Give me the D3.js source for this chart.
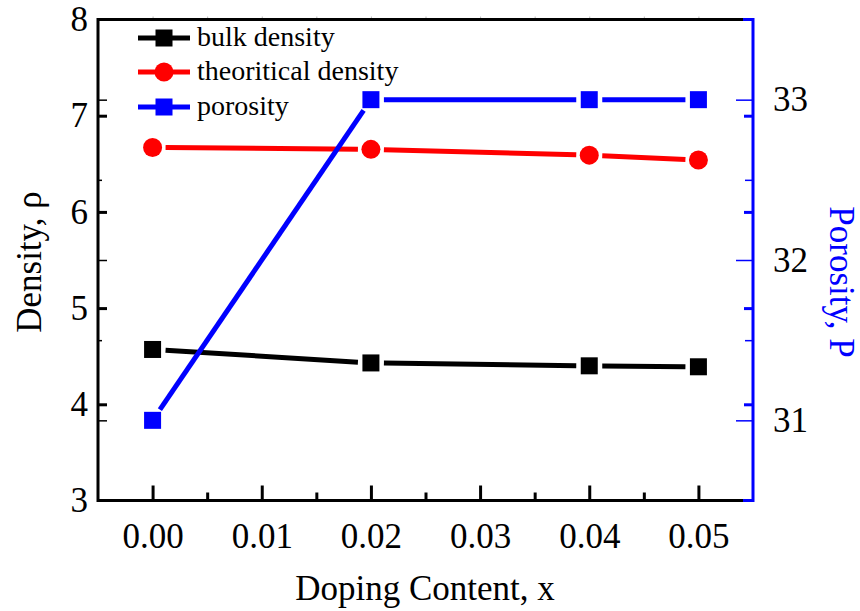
<!DOCTYPE html>
<meta charset="utf-8">
<style>
  body { margin: 0; background: #fff; }
  svg { font-family: "Liberation Serif", "Times New Roman", serif; }
</style>
<body>
<svg id="chart" width="860" height="611"></svg>
<script src="https://cdn.jsdelivr.net/npm/d3@7"></script>
<script>
  // data
  const doping = [0.00, 0.02, 0.04, 0.05];
  const bulkDensity = [4.57, 4.43, 4.40, 4.39];
  const theoDensity = [6.67, 6.65, 6.59, 6.54];
  const porosity = [31.0, 33.0, 33.0, 33.0];

  const xTicks = [0, 0.01, 0.02, 0.03, 0.04, 0.05];
  const xMinor = [0.005, 0.015, 0.025, 0.035, 0.045];
  const leftTicks = [3, 4, 5, 6, 7, 8];
  const leftInner = [4, 5, 6, 7];
  const rightTicks = [31, 32, 33];
  const rightMinor = [31.5, 32.5];
  const legendLabels = ["bulk density", "theoritical density", "porosity"];

  const pLeft = 98, pRight = 753, pTop = 19.5, pBottom = 500.5;
  const svg = d3.select("#chart");

  const x = d3.scaleLinear().domain([-0.005, 0.055]).range([pLeft, pRight]);
  const yL = d3.scaleLinear().domain([3, 8]).range([pBottom, pTop]);
  const yR = d3.scaleLinear().domain([30.5, 33.5]).range([pBottom, pTop]);

  const strip = g => g.select(".domain").remove();

  // bottom axis
  const gb = svg.append("g").attr("transform", `translate(0,${pBottom})`);
  gb.append("g").call(d3.axisBottom(x).tickValues(xTicks).tickSize(-15).tickFormat(""))
    .call(strip).selectAll("line").attr("stroke-width", 3);
  gb.append("g").call(d3.axisBottom(x).tickValues(xMinor).tickSize(-8).tickFormat(""))
    .call(strip).selectAll("line").attr("stroke-width", 3);
  gb.append("g").call(d3.axisBottom(x).tickValues(xTicks).tickSize(0).tickPadding(23).tickFormat(d3.format(".2f")))
    .call(strip).selectAll("text").attr("font-size", 35).attr("fill", "#000");

  // faint marks on top axis
  svg.append("g").attr("transform", `translate(0,${pTop})`)
    .call(d3.axisTop(x).tickValues(xTicks.concat(xMinor)).tickSize(3).tickFormat(""))
    .call(strip).selectAll("line").attr("stroke", "#bbb").attr("stroke-width", 1);

  // left axis
  const gl = svg.append("g").attr("transform", `translate(${pLeft},0)`);
  gl.append("g").call(d3.axisLeft(yL).tickValues(leftInner).tickSize(-9).tickFormat(""))
    .call(strip).selectAll("line").attr("stroke-width", 3);
  gl.append("g").call(d3.axisLeft(yR).tickValues(rightTicks).tickSize(-9).tickFormat(""))
    .call(strip).selectAll("line").attr("stroke-width", 1.5);
  gl.append("g").call(d3.axisLeft(yR).tickValues(rightMinor).tickSize(-4).tickFormat(""))
    .call(strip).selectAll("line").attr("stroke-width", 1.5);
  gl.append("g").call(d3.axisLeft(yL).tickValues(leftTicks).tickSize(0).tickPadding(10).tickFormat(d3.format("d")))
    .call(strip).selectAll("text").attr("font-size", 35).attr("fill", "#000");

  // right axis (blue)
  const gr = svg.append("g").attr("transform", `translate(${pRight},0)`).attr("color", "#0000ff");
  gr.append("g").call(d3.axisRight(yL).tickValues(leftInner).tickSize(-9).tickFormat(""))
    .call(strip).selectAll("line").attr("stroke-width", 3);
  gr.append("g").call(d3.axisRight(yR).tickValues(rightTicks).tickSize(-17).tickFormat(""))
    .call(strip).selectAll("line").attr("stroke-width", 1.5);
  gr.append("g").call(d3.axisRight(yR).tickValues(rightMinor).tickSize(-8).tickFormat(""))
    .call(strip).selectAll("line").attr("stroke-width", 1.5);
  gr.append("g").call(d3.axisRight(yR).tickValues(rightTicks).tickSize(0).tickPadding(20).tickFormat(d3.format("d")))
    .call(strip).selectAll("text").attr("font-size", 35).attr("fill", "#000");

  // fonts set on the svg, not the axis groups
  svg.selectAll("g").attr("font-family", null);

  // frame
  const frame = svg.append("g").attr("fill", "none").attr("stroke-width", 3);
  frame.append("path").attr("stroke", "#000")
    .attr("d", `M${pRight - 9},${pTop}H${pLeft}V${pBottom}H${pRight - 9}`);
  frame.append("path").attr("stroke", "#0000ff")
    .attr("d", `M${pRight - 10},${pTop}H${pRight}V${pBottom}H${pRight - 10}`);

  // series
  function drawSeries(values, yScale, color, shape) {
    const g = svg.append("g");
    const pts = doping.map((d, i) => [x(d), yScale(values[i])]);
    const gap = 13;
    for (let i = 0; i < pts.length - 1; i++) {
      const [x1, y1] = pts[i], [x2, y2] = pts[i + 1];
      const len = Math.hypot(x2 - x1, y2 - y1);
      const ux = (x2 - x1) / len, uy = (y2 - y1) / len;
      g.append("line")
        .attr("x1", x1 + ux * gap).attr("y1", y1 + uy * gap)
        .attr("x2", x2 - ux * gap).attr("y2", y2 - uy * gap)
        .attr("stroke", color).attr("stroke-width", 5);
    }
    pts.forEach(p => marker(g, p[0], p[1], color, shape));
  }

  function marker(g, cx, cy, color, shape) {
    if (shape === "circle") {
      g.append("circle").attr("cx", cx).attr("cy", cy).attr("r", 9.5).attr("fill", color);
    } else {
      g.append("rect").attr("x", cx - 8.5).attr("y", cy - 8.5)
        .attr("width", 17).attr("height", 17).attr("fill", color);
    }
  }

  drawSeries(bulkDensity, yL, "#000000", "square");
  drawSeries(theoDensity, yL, "#ff0000", "circle");
  drawSeries(porosity, yR, "#0000ff", "square");

  // legend
  const legColors = ["#000000", "#ff0000", "#0000ff"];
  const legShapes = ["square", "circle", "square"];
  const legY = [38, 72, 107];
  legendLabels.forEach((lab, i) => {
    const g = svg.append("g");
    g.append("line").attr("x1", 138).attr("x2", 190).attr("y1", legY[i]).attr("y2", legY[i])
      .attr("stroke", legColors[i]).attr("stroke-width", 5);
    marker(g, 164, legY[i], legColors[i], legShapes[i]);
    g.append("text").attr("x", 197).attr("y", legY[i] + 8)
      .attr("font-size", 28).text(lab);
  });

  // axis titles
  svg.append("text").attr("x", 425).attr("y", 600).attr("text-anchor", "middle")
    .attr("font-size", 35).text("Doping Content, x");
  svg.append("text").attr("transform", "translate(41,262) rotate(-90)")
    .attr("text-anchor", "middle").attr("font-size", 35).text("Density, \u03c1");
  svg.append("text").attr("transform", "translate(830,282) rotate(90)")
    .attr("text-anchor", "middle").attr("font-size", 35).attr("fill", "#0000ff").text("Porosity, P");
</script>
</body>
